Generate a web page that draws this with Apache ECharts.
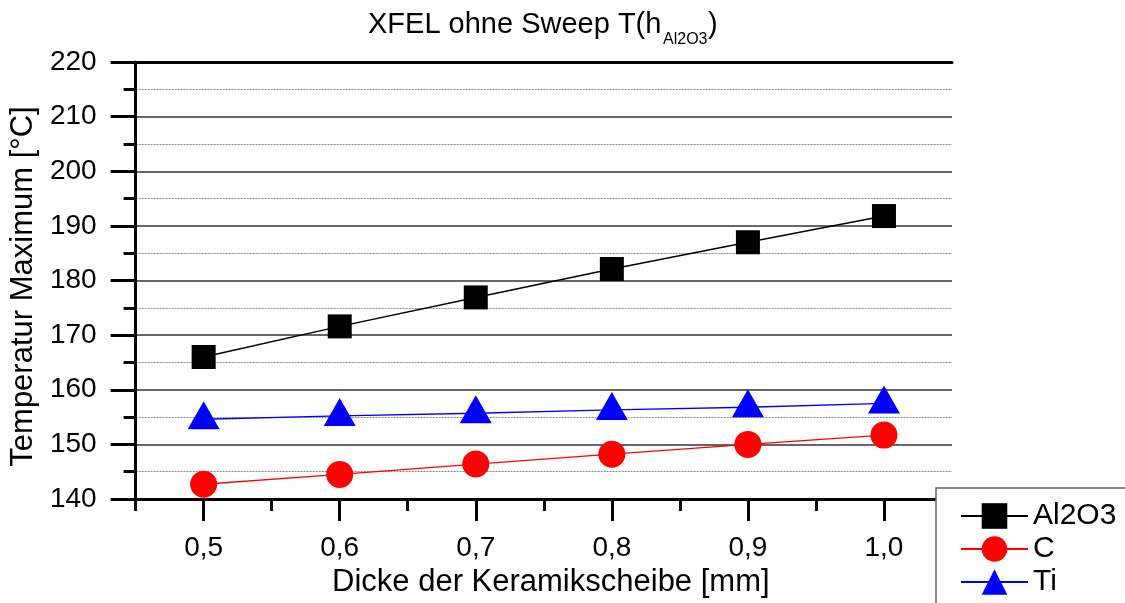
<!DOCTYPE html>
<html>
<head>
<meta charset="utf-8">
<script src="https://cdn.jsdelivr.net/npm/echarts@6/dist/echarts.min.js"></script>
<style>html,body{margin:0;padding:0;background:#fff}#c{width:1125px;height:603px}</style>
</head>
<body>
<div id="c"></div>
<script>
const thickness = [0.5, 0.6, 0.7, 0.8, 0.9, 1.0];
const al2o3 = [166.0, 171.6, 176.9, 182.1, 187.0, 191.8];
const carbon = [142.7, 144.5, 146.4, 148.2, 150.0, 151.7];
const titan = [154.6, 155.2, 155.7, 156.3, 156.8, 157.5];
const xMajorTicks = [0.5, 0.6, 0.7, 0.8, 0.9, 1.0];
const xMinorTicks = [0.45, 0.55, 0.65, 0.75, 0.85, 0.95, 1.05];
const seriesNames = ['Al2O3', 'C', 'Ti'];

const FONT = '"Liberation Sans", Arial, sans-serif';
const pair = (vals) => thickness.map((x, i) => [x, vals[i]]);
const titleStyle = (size) => ({fontFamily: FONT, fontSize: size, fontWeight: 'normal', color: '#000'});

const chart = echarts.init(document.getElementById('c'), null, {renderer: 'canvas'});
chart.setOption({
  backgroundColor: '#fff',
  animation: false,
  title: [
    {text: 'XFEL ohne Sweep T(h', left: 368, top: 10, padding: 0, textStyle: titleStyle(29)},
    {text: 'Al2O3', left: 663, top: 32, padding: 0, textStyle: titleStyle(16)},
    {text: ')', left: 708, top: 10, padding: 0, textStyle: titleStyle(29)}
  ],
  grid: {left: 135, right: 173, top: 62, bottom: 104},
  legend: {
    orient: 'vertical',
    left: 936,
    top: 488,
    height: 150,
    padding: [13, 60, 40, 24],
    itemWidth: 67,
    itemHeight: 32,
    itemGap: 3,
    backgroundColor: '#fff',
    borderColor: '#666',
    borderWidth: 1.5,
    borderRadius: 0,
    z: 10,
    textStyle: {fontFamily: FONT, fontSize: 30, color: '#000', lineHeight: 30},
    data: seriesNames
  },
  xAxis: [
    {
      type: 'value', min: 0.45, max: 1.05, position: 'bottom',
      name: 'Dicke der Keramikscheibe [mm]', nameLocation: 'middle', nameGap: 68,
      nameTextStyle: {fontFamily: FONT, fontSize: 31, color: '#000', padding: [0, 0, 0, 14]},
      axisLine: {show: true, onZero: false, lineStyle: {color: '#000', width: 3}},
      axisTick: {show: true, customValues: xMajorTicks, length: 22, lineStyle: {color: '#000', width: 3}},
      axisLabel: {show: true, customValues: xMajorTicks, margin: 35, fontFamily: FONT, fontSize: 28, color: '#000',
        formatter: (v) => v.toFixed(1).replace('.', ',')},
      splitLine: {show: false}
    },
    {
      type: 'value', min: 0.45, max: 1.05, position: 'bottom',
      axisLine: {show: false},
      axisTick: {show: true, customValues: xMinorTicks, length: 12, lineStyle: {color: '#000', width: 3}},
      axisLabel: {show: false},
      splitLine: {show: false}
    },
    {
      type: 'value', min: 0.45, max: 1.05, position: 'top',
      axisLine: {show: true, onZero: false, lineStyle: {color: '#000', width: 3}},
      axisTick: {show: false},
      axisLabel: {show: false},
      splitLine: {show: false}
    }
  ],
  yAxis: {
    type: 'value', min: 140, max: 220, interval: 10,
    name: 'Temperatur Maximum [°C]', nameLocation: 'middle', nameGap: 92,
    nameTextStyle: {fontFamily: FONT, fontSize: 31, color: '#000', padding: [0, 12, 0, 0]},
    axisLine: {show: true, onZero: false, lineStyle: {color: '#000', width: 3}},
    axisTick: {show: true, length: 25, lineStyle: {color: '#000', width: 3}},
    minorTick: {show: true, splitNumber: 2, length: 12, lineStyle: {color: '#000', width: 3}},
    axisLabel: {margin: 39, fontFamily: FONT, fontSize: 28, color: '#000'},
    splitLine: {show: true, lineStyle: {color: '#333', width: 1.5}},
    minorSplitLine: {show: true, lineStyle: {color: '#888', width: 1, type: [2, 1]}}
  },
  series: [
    {
      name: 'Al2O3', type: 'line', data: pair(al2o3),
      symbol: 'rect', symbolSize: 24,
      itemStyle: {color: '#000'},
      lineStyle: {color: '#000', width: 1.5},
      z: 3
    },
    {
      name: 'C', type: 'line', data: pair(carbon),
      symbol: 'circle', symbolSize: 27,
      itemStyle: {color: '#ff0000'},
      lineStyle: {color: '#ff0000', width: 1.3},
      z: 3
    },
    {
      name: 'Ti', type: 'line', data: pair(titan),
      symbol: 'triangle', symbolSize: [32, 28], symbolOffset: [0, -4],
      itemStyle: {color: '#0000ff'},
      lineStyle: {color: '#0000ff', width: 1.3},
      z: 3
    }
  ]
});
</script>
</body>
</html>
